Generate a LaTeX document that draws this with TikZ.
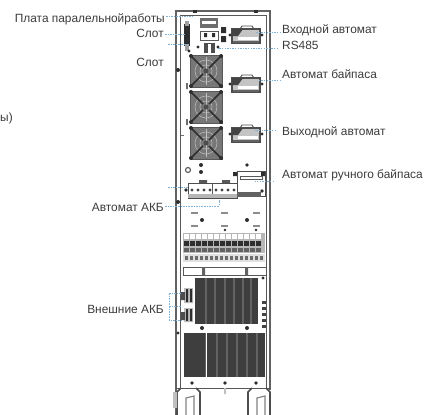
\documentclass[tikz,border=0pt]{standalone}
\usepackage{fontspec}
\setmainfont{Liberation Sans}
\definecolor{txt}{HTML}{3C3C3C}
\definecolor{lead}{HTML}{7FB2DA}
\definecolor{ink}{HTML}{2E2E2E}
\definecolor{mesh}{HTML}{3E3E3E}
\definecolor{meshb}{HTML}{636363}
\tikzset{
  lbl/.style={inner sep=0pt,font=\fontsize{11.9}{13}\selectfont,text=txt},
  leader/.style={draw=lead,line width=1pt,dash pattern=on 1.5pt off 1.1pt},
  frame/.style={draw=ink!75,line width=1pt},
  thin/.style={draw=ink!80,line width=0.7pt},
  fanbox/.style={fill=ink!65,draw=ink!80,line width=0.5pt},
  brk/.style={fill=white,draw=ink!85,line width=1.1pt},
}
\newcommand{\fanat}[2]{%
  \begin{scope}[shift={(#1,#2)}]
    \fill[fanbox] (-16,-16) rectangle (16,16);
    \foreach \r in {6,11}{\draw[white!65!ink,line width=0.6pt] (0,0) circle (\r);}
    \draw[ink,line width=1.5pt] (-16,-16) -- (-3,-3) (16,16) -- (3,3) (-16,16) -- (-3,3) (16,-16) -- (3,-3);
    \draw[white!70!ink,line width=1pt] (0,-14) -- (0,14);
    \fill[ink!85] (0,0) circle (2.5);
    \foreach \a/\b in {-15/-15,15/-15,-15/15,15/15}{\fill[ink] (\a,\b) circle (2);}
  \end{scope}}
\newcommand{\breakerat}[2]{%
  \begin{scope}[shift={(#1,#2)}]
    \draw[brk,fill=ink!28] (-14,-5) rectangle (14,9);
    \fill[ink!90] (-14,-5) -- (-3,-5) -- (-8,2) -- (-14,2) -- cycle;
    \fill[white] (-8,3) rectangle (12,6);
    \draw[ink!85,line width=0.9pt] (-6,-5) -- (-4,-8) -- (6,-8) -- (8,-5);
    \fill[ink] (-16,1) circle (1.7) (16,1) circle (1.7);
    \fill[ink!75] (-13,6.5) rectangle (13,9);
  \end{scope}}
\begin{document}
\begin{tikzpicture}[x=1pt,y=-1pt]
\useasboundingbox (0,0) rectangle (434,415);
\fill[white] (0,0) rectangle (434,415);
% cabinet
\draw[frame,line width=1.2pt] (176,415) -- (176,11) -- (270,11) -- (270,390);
\draw[thin] (180,388) -- (180,15) -- (266,15) -- (266,388);
\draw[thin,line width=1pt] (176,388) -- (270,388);
\foreach \x in {193,254}{\fill[ink] (\x,10) rectangle +(3.5,3);}
% top controls
\fill[ink] (184,24) rectangle (190,46);
\fill[ink!45] (185,21) rectangle (189,51);
\fill[ink] (185,26) rectangle (190,44);
\fill[ink!70] (200,18) rectangle (218,28);
\fill[white] (202,21) rectangle (216,24);
\draw[thin] (200,31) rectangle (218,40);
\fill[ink] (204,33) rectangle +(3,4) (212,33) rectangle +(3,4);
\fill[ink] (221,27) rectangle +(5,6) (221,36) rectangle +(5,6);
\fill[ink!85] (204,43) rectangle (215,53);
\fill[white] (208,44) rectangle (210.5,53);
\fill[ink] (198,47) circle (1.7) (218,47) circle (1.7) (189,51) circle (1.7);
% fans
\fanat{206}{71}\fanat{206}{107}\fanat{206}{143}
\fill[ink] (178,70) circle (2) (178,202) circle (2);
\fill[ink!70] (186,83) rectangle +(1.8,6) (186,119) rectangle +(1.8,6);
\fill[ink!70] (181,135) rectangle +(3,1.2);
% breakers
\breakerat{246}{34}\breakerat{246}{83}\breakerat{246}{133}
% small parts
\draw[ink!75,line width=1.2pt] (188,170) circle (2.5);
\fill[ink] (201,165) circle (2) (201,172) circle (2);
% battery breaker row
\draw[brk,line width=1pt] (188,183) rectangle (237,198);
\fill[ink!80] (199,180) rectangle (207,183) (222,180) rectangle (230,183);
\draw[thin] (212,183) -- (212,198);
\fill[ink!35] (188,194) rectangle (237,198);
\foreach \x in {192,198,...,234}{\fill[ink!90] (\x,190) circle (1.7);}
\fill[ink] (186,190) circle (1.8);
% manual bypass
\draw[brk,line width=1pt] (237,171) rectangle (265,196);
\fill[ink] (233,172) rectangle +(4,4) (261,172) rectangle +(4,4);
\fill[ink] (247,165) circle (1.9) (262,191) circle (1.8);
\fill[ink!75] (237,192) rectangle (261,197);
\draw[thin] (240,176) rectangle (262,179);
% small marks
\foreach \x/\y in {194/212,224/212,256/212,194/225,224/225,256/225}{\fill[ink!55] (\x-3,\y) rectangle +(7,1.6);}
\fill[ink] (202,220) circle (2) (247,220) circle (2) (225,230) circle (1.4) (256,230) circle (1.4);
% terminals
\fill[ink!35] (183,233) rectangle (265,253);
\foreach \x in {184,190,...,260}{%
  \fill[white] (\x,234) rectangle +(4.5,4.5);
  \fill[ink] (\x,241) rectangle +(5,5);
  \fill[ink!75] (\x,248) rectangle +(5,4);}
\fill[ink!15] (183,254) rectangle (265,262);
\foreach \x in {185,190,...,260}{\fill[ink!70] (\x,256) rectangle +(3.2,4);}
% bars
\draw[thin] (183,267) rectangle (266,275);
\fill[ink!75] (202,267) rectangle (205,275) (245,267) rectangle (248,275);
% grids
\fill[mesh] (195,278) rectangle (258,324);
\foreach \x in {205,214,224,233,242,250}{\fill[meshb] (\x,278) rectangle +(1.8,46);}
\fill[mesh] (184,333) rectangle (265,377);
\foreach \x in {205,216,226,236,246,256}{\fill[meshb] (\x,333) rectangle +(1.8,44);}
\fill[white] (206.3,333) rectangle (207,377);
% connectors
\fill[ink!30] (184,288) rectangle (193,303) (184,308) rectangle (193,322);
\foreach \x in {186,190}{\fill[ink] (\x,289) rectangle +(2.2,13) (\x,309) rectangle +(2.2,12);}
\fill[ink!85] (181,292) rectangle +(4,8) (181,312) rectangle +(4,8);
% right side
\fill[ink] (263,278) circle (1.7);
\foreach \y in {301,307,313,319,325}{\fill[ink!90] (262,\y) rectangle +(4,3.4);}
\draw[thin] (269,278) -- (269,300);
\fill[ink] (202,328) circle (2) (247,328) circle (2) (178,333) circle (1.7);
\fill[ink] (192,383) circle (1.9) (225,383) circle (1.9) (256,383) circle (1.9);
% feet
\draw[ink!85,line width=1.6pt] (177,415) -- (177,392) -- (181,388) (196,388) -- (200,392) -- (200,415);
\draw[ink!85,line width=1.6pt] (248,415) -- (248,392) -- (252,388) (266,388) -- (270,392) -- (270,415);
\draw[ink!60,line width=1.2pt] (186,415) -- (186,398) -- (194,396) -- (194,415);
\draw[ink!60,line width=1.2pt] (257,415) -- (257,398) -- (265,396) -- (265,415);
\fill[ink!30] (173,392) rectangle (177,408) (224,388) rectangle (226,394);
% labels
\node[lbl,anchor=east] (plata) at (165,19) {Плата паралельнойработы};
\node[lbl,anchor=east] (slot1) at (164,33) {Слот};
\node[lbl,anchor=east] (slot2) at (164,62) {Слот};
\node[lbl,anchor=east] (akb) at (164,207) {Автомат АКБ};
\node[lbl,anchor=east] (ext) at (164,309) {Внешние АКБ};
\node[lbl,anchor=west] (vhod) at (282,30) {Входной автомат};
\node[lbl,anchor=west] (rs) at (282,45) {RS485};
\node[lbl,anchor=west] (bypass) at (282,74) {Автомат байпаса};
\node[lbl,anchor=west] (vyhod) at (282,132) {Выходной автомат};
\node[lbl,anchor=west] (manual) at (282,175) {Автомат ручного байпаса};
\node[lbl,anchor=west] (cut) at (0,118) {ы)};
% free ends
\coordinate (p1) at (193,16);
\coordinate (s1) at (185,34);
\coordinate (s2a) at (168,44);
\coordinate (s2b) at (188,44);
\coordinate (a1) at (219,206);
\coordinate (a2) at (219,200);
\coordinate (a3) at (168,187);
\coordinate (a4) at (188,187);
\coordinate (v1) at (255,32);
\coordinate (r1) at (218,48);
\coordinate (b1) at (258,80);
\coordinate (o1) at (255,130);
\coordinate (m1) at (255,181);
\coordinate (e1) at (169,293);
\coordinate (e2) at (169,320);
\coordinate (e3) at (182,293);
\coordinate (e4) at (182,320);
\coordinate (e5) at (182,306);
% leaders
\draw[leader] (plata.east)++(1,-3) -- (p1);
\draw[leader] (slot1.east)++(1,1) -- (s1);
\draw[leader] (s2a) -- (s2b);
\draw[leader] (akb.east)++(1,-1) -- (a1) -- (a2);
\draw[leader] (a3) -- (a4);
\draw[leader] (vhod.west)++(-1,2) -- (v1);
\draw[leader] (rs.west)++(-4,3) -- (r1);
\draw[leader] (bypass.west)++(-1,6) -- (b1);
\draw[leader] (vyhod.west)++(-6,-2) -- (o1);
\draw[leader] (manual.west)++(-8,6) -- (m1);
\draw[leader] (e1) -- (e3) (e1) -- (e2) -- (e4);
\draw[leader] (ext.east)++(5,-3) -- (e5);
\end{tikzpicture}
\end{document}
